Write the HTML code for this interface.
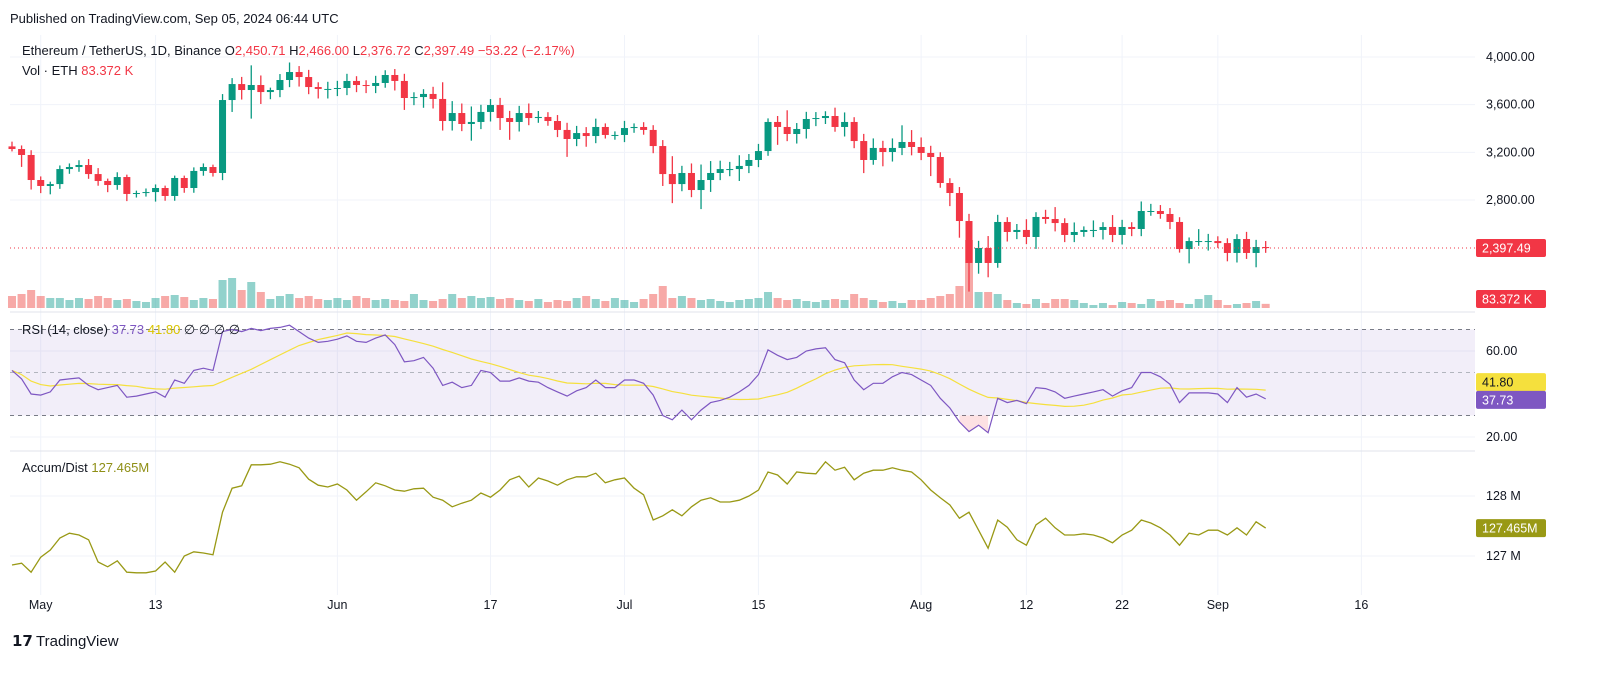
<!DOCTYPE html>
<html><head><meta charset="utf-8"><style>
body{margin:0;background:#fff;width:1600px;height:676px;overflow:hidden;font-family:"Liberation Sans",sans-serif}
svg text{font-family:"Liberation Sans",sans-serif}
</style></head><body>
<svg id="c" width="1600" height="676" xmlns="http://www.w3.org/2000/svg">
<text x="10" y="23" font-size="13" fill="#131722">Published on TradingView.com, Sep 05, 2024 06:44 UTC</text>
<g id="grid"></g>
<g id="rsiBg"></g>
<g id="marks"></g>
<g id="axes"></g>
<text x="22" y="55" font-size="13" fill="#131722">Ethereum / TetherUS, 1D, Binance  O<tspan fill="#f23645">2,450.71</tspan> H<tspan fill="#f23645">2,466.00</tspan> L<tspan fill="#f23645">2,376.72</tspan> C<tspan fill="#f23645">2,397.49</tspan> <tspan fill="#f23645">−53.22 (−2.17%)</tspan></text>
<text x="22" y="75" font-size="13" fill="#131722">Vol · ETH  <tspan fill="#f23645">83.372 K</tspan></text>
<text x="22" y="334" font-size="13" fill="#131722">RSI (14, close) <tspan fill="#7e57c2">37.73</tspan> <tspan fill="#d8c400">41.80</tspan> ∅ ∅ ∅ ∅</text>
<text x="22" y="472" font-size="13" fill="#131722">Accum/Dist <tspan fill="#8f8f16">127.465M</tspan></text>
<g><text x="12" y="646" font-size="15" font-weight="bold" fill="#131722">𝟭𝟳</text><text x="36" y="646" font-size="15" fill="#131722">TradingView</text></g>
</svg>
<script>
const closes=[3228,3178,2968,2918,2934,3060,3077,3094,3018,2960,2926,2993,2851,2859,2867,2901,2834,2985,2901,3044,3077,3027,3639,3773,3723,3765,3706,3723,3807,3874,3832,3748,3732,3732,3740,3799,3765,3757,3782,3849,3799,3656,3664,3690,3648,3463,3530,3438,3455,3539,3597,3488,3455,3530,3488,3497,3463,3388,3312,3362,3337,3413,3346,3346,3404,3413,3388,3253,3018,2934,3027,2884,2968,3027,3060,3060,3086,3136,3211,3455,3413,3354,3396,3480,3488,3505,3413,3455,3295,3136,3237,3203,3237,3287,3245,3195,3161,2943,2859,2624,2272,2398,2272,2616,2532,2549,2490,2658,2641,2607,2507,2532,2549,2549,2574,2507,2574,2557,2708,2708,2683,2616,2389,2456,2456,2456,2439,2356,2473,2356,2406,2397];
const firstOpen=3250;
const wickUp=[40,30,40,30,20,30,30,40,50,50,20,40,20,20,30,30,20,20,20,30,30,20,50,50,60,165,80,20,50,80,50,60,40,60,60,60,40,40,60,40,50,60,40,40,60,140,100,80,130,60,50,60,60,60,80,50,40,50,60,60,50,70,30,30,60,30,40,40,50,150,60,80,130,100,70,60,90,50,60,30,50,140,50,60,50,40,70,80,40,60,80,60,80,140,100,80,60,40,40,50,60,60,100,60,40,50,90,40,60,100,40,80,30,80,40,100,60,40,80,60,50,50,40,30,100,60,40,40,40,60,60,50];
const wickDn=[20,100,80,60,70,40,40,40,40,40,60,40,60,30,30,80,40,40,40,40,40,30,60,100,80,240,100,60,60,60,80,60,80,80,60,60,60,60,60,40,80,100,60,90,80,80,80,60,140,60,80,100,150,80,60,40,40,60,150,60,90,60,30,40,60,40,40,60,100,160,60,60,160,100,60,60,100,60,60,40,150,60,80,80,60,50,40,80,60,110,40,120,80,60,70,60,160,40,110,140,240,90,120,40,80,60,60,100,40,70,60,60,40,60,80,60,80,60,60,40,40,60,30,120,40,80,40,70,80,50,120,40];
const volumeK=[240,280,360,240,200,200,160,200,180,240,200,160,180,140,120,200,240,260,220,160,200,180,560,600,360,520,320,180,240,280,200,240,180,160,200,160,240,200,160,180,160,140,280,160,140,180,280,200,240,200,220,180,200,160,140,180,120,160,140,200,240,180,140,200,160,120,180,280,440,200,240,200,160,180,140,120,160,180,200,320,200,160,180,140,120,160,180,160,280,200,160,120,140,100,160,160,200,240,280,440,1360,320,320,280,160,100,80,180,100,180,180,160,100,60,100,60,120,100,80,180,140,160,100,80,180,260,160,60,80,100,140,83];
const rsi=[51,47,40,39.5,41,46.5,47,47.5,44,42,43,44,38.5,39,40,41,38.5,46.5,45,51,52,51,69,70,69,70.5,69.5,70.5,71,72,69,66,64,64.5,65.5,67,64.5,64,66,67.5,63,55,55.5,57,52,44,45.5,43,44,51,50,46,46,47.5,46,45.5,43,41,39,41.5,43,46.5,43,43,46.5,46.5,45,39.5,30,28,32.5,28,32.5,36,37,38.5,41,44,49,60.5,58,56,57,60,61,61.5,56,54.5,46.5,42,45,45,48,50,49,46.5,44,38,33.5,27,22.5,25.5,22,38,36,37,35.5,43,42.5,41,38,39,40,41,42,39,41.5,43,50,50,48,44.5,36,40.5,40.5,40.5,40,36,43,38.5,40,37.73];
const accDist=[126.85,126.88,126.73,126.98,127.10,127.30,127.38,127.35,127.27,126.90,126.82,126.92,126.73,126.72,126.72,126.75,126.90,126.73,127.00,127.07,127.05,127.02,127.73,128.13,128.17,128.52,128.52,128.53,128.57,128.53,128.47,128.28,128.18,128.15,128.20,128.10,127.93,128.07,128.22,128.17,128.10,128.08,128.12,128.13,127.98,127.93,127.82,127.88,127.93,128.05,127.98,128.10,128.27,128.33,128.15,128.30,128.25,128.18,128.27,128.32,128.32,128.38,128.22,128.27,128.30,128.13,128.02,127.60,127.67,127.77,127.67,127.82,127.93,127.97,127.90,127.90,127.93,128.00,128.10,128.40,128.35,128.20,128.40,128.38,128.37,128.57,128.43,128.48,128.27,128.38,128.43,128.43,128.47,128.43,128.40,128.27,128.10,127.97,127.85,127.63,127.73,127.43,127.13,127.60,127.48,127.27,127.18,127.52,127.63,127.47,127.35,127.35,127.37,127.35,127.30,127.22,127.35,127.43,127.60,127.55,127.47,127.35,127.18,127.38,127.35,127.43,127.43,127.35,127.47,127.35,127.57,127.465];
const priceTicks=[4000,3600,3200,2800];
const priceTickLabels=["4,000.00","3,600.00","3,200.00","2,800.00"];
const rsiTicks=[60,20];
const adTicks=[128,127];
const dateTickIdx=[3,15,34,50,64,78,95,106,116,126,141];
const dateTickLabels=["May","13","Jun","17","Jul","15","Aug","12","22","Sep","16"];

const NS="http://www.w3.org/2000/svg";
const X=i=>12+i*9.57;
const yP=p=>57+(4000-p)*0.1192;
const yV=v=>308-v/20;
const yR=r=>351+(60-r)*2.15;
const yA=a=>496+(128-a)*60;
function mk(parent,tag,attrs){const e=document.createElementNS(NS,tag);for(const k in attrs)e.setAttribute(k,attrs[k]);document.getElementById(parent).appendChild(e);return e;}

priceTicks.forEach(p=>{const e=mk('grid','line',{x1:10,x2:1475,y1:yP(p),y2:yP(p),stroke:'#f0f3fa'});

});
dateTickIdx.forEach(i=>{const e=mk('grid','line',{x1:X(i),x2:X(i),y1:35,y2:595,stroke:'#f0f3fa'});

});
[rsiTicks,adTicks].forEach((t,k)=>t.forEach(v=>{const y=k?yA(v):yR(v);const e=mk('grid','line',{x1:10,x2:1475,y1:y,y2:y,stroke:'#f0f3fa'});

}));
[312,451].forEach(y=>{const e=mk('grid','line',{x1:10,x2:1475,y1:y,y2:y,stroke:'#e0e3eb'});

});

let b=mk('rsiBg','rect',{x:10,y:yR(70),width:1465,height:yR(30)-yR(70),fill:'rgba(126,87,194,0.1)'});


[70,50,30].forEach(v=>{const e=mk('rsiBg','line',{x1:10,x2:1475,y1:yR(v),y2:yR(v),stroke:v==50?'#b2b5be':'#787b86','stroke-dasharray':'4,4','stroke-width':1});

});

volumeK.forEach((v,i)=>{if(i>=closes.length)return;const o=i?closes[i-1]:firstOpen;const up=closes[i]>=o;
const e=mk('marks','rect',{x:X(i)-4,y:yV(v),width:8,height:308-yV(v),fill:up?'rgba(38,166,154,0.5)':'rgba(239,83,80,0.5)'});

});

closes.forEach((c,i)=>{const o=i?closes[i-1]:firstOpen;const up=c>=o;const col=up?'#089981':'#f23645';
const hi=Math.max(o,c)+wickUp[i],lo=Math.min(o,c)-wickDn[i];
const w=mk('marks','line',{x1:X(i),x2:X(i),y1:yP(hi),y2:yP(lo),stroke:col,'stroke-width':1.3});


const yt=yP(Math.max(o,c)),yb=yP(Math.min(o,c));
const r=mk('marks','rect',{x:X(i)-3.5,y:yt,width:7,height:Math.max(1,yb-yt),fill:col});

});

let lp=mk('marks','line',{x1:10,x2:1475,y1:yP(2397.49),y2:yP(2397.49),stroke:'#f23645','stroke-dasharray':'1,3'});



const rsiMA=rsi.map((v,i)=>{const s=rsi.slice(Math.max(0,i-13),i+1);return s.reduce((a,b)=>a+b,0)/s.length;});
function path(arr,fy){return arr.map((v,i)=>(i?'L':'M')+X(i).toFixed(1)+','+fy(v).toFixed(1)).join('');}
let os=mk('marks','path',{d:'M'+X(99)+','+yR(30)+rsi.slice(99,103).map((v,k)=>'L'+X(99+k)+','+Math.max(yR(30),yR(v))).join('')+'L'+X(102)+','+yR(30)+'Z',fill:'rgba(242,54,69,0.15)'});


let m=mk('marks','path',{d:path(rsiMA,yR),fill:'none',stroke:'#f5e03d','stroke-width':1.2});


let rl=mk('marks','path',{d:path(rsi,yR),fill:'none',stroke:'#7e57c2','stroke-width':1.2});


let al=mk('marks','path',{d:path(accDist,yA),fill:'none',stroke:'#999915','stroke-width':1.3});



function lbl(x,y,t,name,fill,anchor){const e=mk('axes','text',{x:x,y:y,'font-size':12.5,fill:fill||'#131722','text-anchor':anchor||'start'});e.textContent=t;

return e;}
priceTicks.forEach((p,k)=>lbl(1486,yP(p)+4,priceTickLabels[k],'price-tick-label'));
rsiTicks.forEach(v=>lbl(1486,yR(v)+4,v.toFixed(2),'rsi-tick-label'));
adTicks.forEach(v=>lbl(1486,yA(v)+4,v+' M','ad-tick-label'));
dateTickIdx.forEach((i,k)=>lbl(X(i),609,dateTickLabels[k],'date-tick-label','#131722','middle'));
function box(y,t,bg,fg,name){const r=mk('axes','rect',{x:1476,y:y-9,width:70,height:18,rx:2,fill:bg});


lbl(1482,y+4.5,t,name+'-text',fg);}
box(yP(2397.49),'2,397.49','#f23645','#fff','last-price-badge');
box(299,'83.372 K','#f23645','#fff','volume-badge');
box(yR(41.8)-8,'41.80','#f5e03d','#131722','rsi-ma-badge');
box(yR(37.73)+1,'37.73','#7e57c2','#fff','rsi-badge');
box(yA(127.465),'127.465M','#999915','#fff','ad-badge');
</script>
</body></html>
